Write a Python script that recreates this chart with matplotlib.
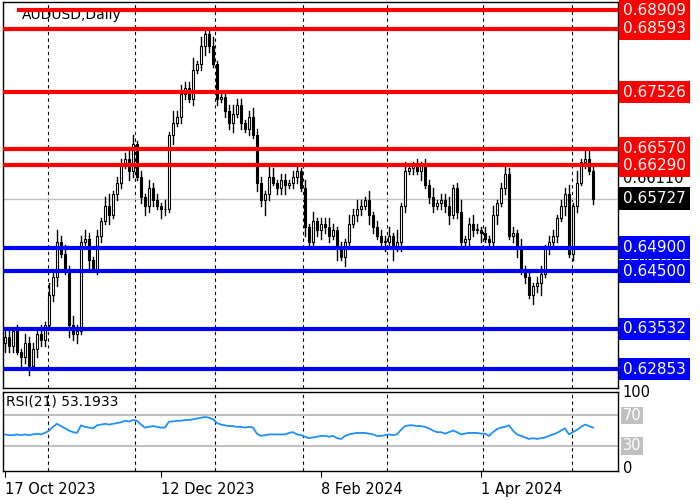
import matplotlib
matplotlib.use('Agg')
import matplotlib.pyplot as plt
from matplotlib.patches import Rectangle

# Daily closes (one per candle)
closes = [
    0.6340, 0.6325, 0.6350, 0.6315, 0.6305, 0.6330, 0.6290, 0.6320, 0.6345, 0.6335,
    0.6360, 0.6410, 0.6440, 0.6500, 0.6480, 0.6455, 0.6360, 0.6345, 0.6350, 0.6500,
    0.6505, 0.6470, 0.6455, 0.6510, 0.6535, 0.6560, 0.6545, 0.6580, 0.6600, 0.6630,
    0.6640, 0.6620, 0.6665, 0.6610, 0.6575, 0.6560, 0.6590, 0.6570, 0.6560, 0.6555,
    0.6555, 0.6680, 0.6700, 0.6710, 0.6750, 0.6760, 0.6740, 0.6790, 0.6800, 0.6830,
    0.6850, 0.6830, 0.6800, 0.6740, 0.6745, 0.6720, 0.6700, 0.6715, 0.6730, 0.6700,
    0.6690, 0.6710, 0.6680, 0.6600, 0.6570, 0.6580, 0.6610, 0.6600, 0.6590, 0.6605,
    0.6595, 0.6600, 0.6610, 0.6620, 0.6590, 0.6525, 0.6500, 0.6535, 0.6520, 0.6530,
    0.6525, 0.6510, 0.6520, 0.6490, 0.6475, 0.6500, 0.6530, 0.6545, 0.6555, 0.6560,
    0.6570, 0.6545, 0.6525, 0.6510, 0.6500, 0.6500, 0.6510, 0.6490, 0.6500, 0.6560,
    0.6620, 0.6625, 0.6630, 0.6620, 0.6630, 0.6595, 0.6575, 0.6560, 0.6565, 0.6570,
    0.6560, 0.6545, 0.6590, 0.6550, 0.6500, 0.6505, 0.6530, 0.6520, 0.6520, 0.6515,
    0.6505, 0.6500, 0.6545, 0.6565, 0.6590, 0.6615, 0.6510, 0.6515, 0.6490, 0.6455,
    0.6440, 0.6410, 0.6425, 0.6430, 0.6445, 0.6490, 0.6500, 0.6510, 0.6540, 0.6560,
    0.6580, 0.6480, 0.6560, 0.6600, 0.6635, 0.6640, 0.6620, 0.6573,
]
first_open = 0.6330
# wick lengths, in units of 5 pips (one digit per candle)
upper_wicks = ("2312132213" "1424231322" "3212134122" "2431213221" "3142322413"
               "2131212322" "1232214312" "2122131312" "2321213232" "1312223141"
               "3112122312" "2312412321" "2131232213" "1212312212" "23141332")
lower_wicks = ("3221423132" "2123124231" "2312213122" "1321232213" "2131221212"
               "3212122312" "1213252122" "3122131223" "2214132122" "1321232413"
               "2121312212" "2312123213" "1223121232" "2132412121" "31221212")
rsi = [
    45, 44, 44, 45, 44, 45, 44, 45, 46, 45,
    47, 50, 55, 59, 56, 53, 50, 48, 47, 57,
    55, 54, 53, 57, 58, 59, 58, 59, 60, 61,
    63, 62, 64, 63, 58, 54, 55, 56, 55, 54,
    54, 62, 62, 63, 63, 64, 64, 65, 66, 67,
    68, 67, 65, 60, 58, 57, 56, 56, 55, 55,
    54, 55, 54, 46, 43, 44, 45, 45, 45, 45,
    45, 47, 48, 45, 44, 42, 40, 41, 42, 43,
    43, 42, 43, 40, 39, 43, 45, 46, 47, 47,
    47, 46, 45, 43, 43, 44, 45, 44, 45, 51,
    56, 57, 57, 56, 56, 55, 53, 50, 48, 48,
    46, 48, 50, 48, 45, 46, 47, 47, 47, 46,
    46, 43, 48, 52, 54, 55, 57, 50, 45, 43,
    41, 39, 40, 39, 40, 41, 43, 45, 47, 50,
    53, 45, 48, 51, 55, 58, 56, 54,
]
resistance = [0.68909, 0.68593, 0.67526, 0.66570, 0.66290]
support = [0.64900, 0.64500, 0.63532, 0.62853]
last_price = 0.65727
hidden_ticks = ['0.66110', '0.64745', '0.63595']
hidden_tick_prices = [0.66110, 0.64745, 0.63595]
date_labels = ['17 Oct 2023', '12 Dec 2023', '8 Feb 2024', '1 Apr 2024']
date_idx = [0, 39, 79, 119]
grid_idx = [10.75, 32.5, 52.5, 74.5, 95.5, 119.5, 141.75]

W, H = 700, 500
fig = plt.figure(figsize=(7, 5), dpi=100)
ax = fig.add_axes([3 / W, 1 - 388 / H, 615 / W, 386 / H])
ax_rsi = fig.add_axes([3 / W, 1 - 471 / H, 615 / W, 79 / H])

ymin, ymax = 0.62535, 0.69044
xmin, xmax = -0.5, 153.25

opens = [first_open] + closes[:-1]
for i, c in enumerate(closes):
    o = opens[i]
    hi = max(o, c) + int(upper_wicks[i]) * 0.0005
    lo = min(o, c) - int(lower_wicks[i]) * 0.0005
    ax.plot([i, i], [lo, hi], color='black', lw=1, zorder=3)
    bottom = min(o, c)
    h = max(abs(c - o), 0.00008)
    ax.add_patch(Rectangle((i - 0.35, bottom), 0.7, h, facecolor='white' if c >= o else 'black',
                           edgecolor='black', lw=0.8, zorder=4))

for g in grid_idx:
    ax.axvline(g, color='black', ls=(0, (3, 3)), lw=0.8, zorder=1)
    ax_rsi.axvline(g, color='black', ls=(0, (3, 3)), lw=0.8, zorder=1)

ax.axhline(last_price, color='#c0c0c0', lw=1, zorder=2)
for k, p in enumerate(resistance):
    if k == 0:
        ax.plot([3, xmax], [p, p], color='red', lw=3, zorder=5, solid_capstyle='butt')
    else:
        ax.axhline(p, color='red', lw=3, zorder=5)
for p in support:
    ax.axhline(p, color='blue', lw=3, zorder=5)

ax.set_xlim(xmin, xmax)
ax.set_ylim(ymin, ymax)
ax.set_xticks([])
ax.set_yticks([])
ax.text(0.03, 0.985, 'AUDUSD,Daily', transform=ax.transAxes, fontsize=10, va='top', ha='left')

def price_to_fig(p):
    return (1 - 388 / H) + (p - ymin) / (ymax - ymin) * 386 / H

for t, p in zip(hidden_ticks, hidden_tick_prices):
    fig.text(623 / W, price_to_fig(p) - 0.006, t, fontsize=10.5, va='center', ha='left', color='black')
box = 'square,pad=0.25'
for p in resistance:
    fig.text(623 / W, price_to_fig(p), '%.5f' % p, fontsize=11, va='center', ha='left', color='white',
             bbox=dict(boxstyle=box, fc='red', ec='none'))
for p in support:
    fig.text(623 / W, price_to_fig(p), '%.5f' % p, fontsize=11, va='center', ha='left', color='white',
             bbox=dict(boxstyle=box, fc='blue', ec='none'))
fig.text(623 / W, price_to_fig(last_price), '%.5f' % last_price, fontsize=11, va='center', ha='left',
         color='white', bbox=dict(boxstyle=box, fc='black', ec='none'))

# RSI panel
ax_rsi.plot(range(len(rsi)), rsi, color='#1e90ff', lw=1.3, zorder=3)
ax_rsi.axhline(70, color='#c0c0c0', lw=1.5, zorder=2)
ax_rsi.axhline(30, color='#c0c0c0', lw=1.5, zorder=2)
ax_rsi.set_xlim(xmin, xmax)
ax_rsi.set_ylim(-3.3, 101)
ax_rsi.set_yticks([])
ax_rsi.set_xticks(date_idx)
ax_rsi.set_xticklabels(date_labels, ha='left', fontsize=10.5)
ax_rsi.tick_params(axis='x', length=4, pad=4)
ax_rsi.text(0.005, 0.97, 'RSI(21) 53.1933', transform=ax_rsi.transAxes, fontsize=10, va='top', ha='left')
for v, lab in [(100, '100'), (0, '0')]:
    ax_rsi.text(1.008, (v + 3.3) / 104.3, lab, transform=ax_rsi.transAxes, fontsize=10.5, va='center')
for v in [70, 30]:
    ax_rsi.text(1.008, (v + 3.3) / 104.3, str(v), transform=ax_rsi.transAxes, fontsize=10.5, va='center',
                color='white', bbox=dict(boxstyle='square,pad=0.1', fc='#c0c0c0', ec='none'))

for a in (ax, ax_rsi):
    for s in a.spines.values():
        s.set_linewidth(1)

fig.savefig('out.png', dpi=100)
